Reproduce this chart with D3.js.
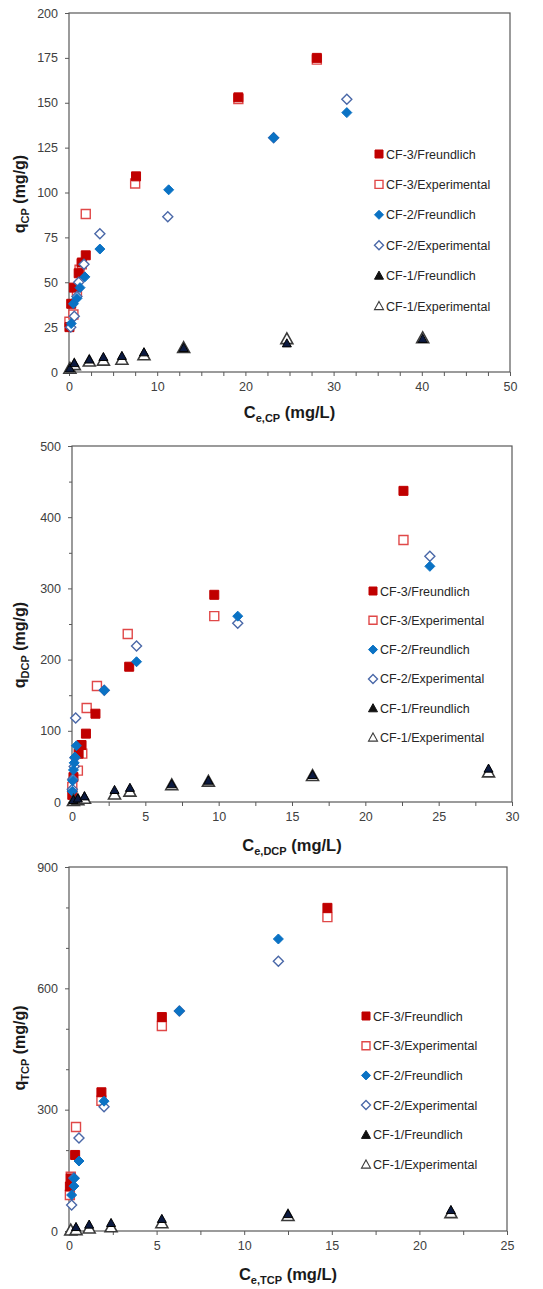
<!DOCTYPE html>
<html><head><meta charset="utf-8">
<script src="https://cdn.jsdelivr.net/npm/d3@7"></script>
<style>
html,body{margin:0;padding:0;background:#fff;}
svg{display:block;font-family:"Liberation Sans",Arial,sans-serif;}
</style></head>
<body>
<svg id="chart" width="543" height="1289"></svg>
<script>
// ---------- DATA ----------
const seriesNames = ["CF-3/Freundlich","CF-3/Experimental","CF-2/Freundlich","CF-2/Experimental","CF-1/Freundlich","CF-1/Experimental"];

// Panel 1: CP
const cpXTicks = [0,10,20,30,40,50];
const cpYTicks = [0,25,50,75,100,125,150,175,200];
const cp_cf3F = [[0.05,25],[0.25,38],[0.55,47],[1.1,55],[1.45,61],[1.9,65],[7.6,109],[19.2,153],[28.1,175]];
const cp_cf3E = [[0.05,28],[0.5,32],[0.9,45],[1.2,57],[1.45,60],[1.9,88],[7.5,105],[19.2,152],[28.1,174]];
const cp_cf2F = [[0.25,27],[0.5,38],[0.9,41],[1.25,47],[1.8,53],[3.5,68.5],[11.3,101.5],[23.2,130.5],[31.5,144.5]];
const cp_cf2E = [[0.2,25],[0.6,31],[0.9,42],[1.1,50],[1.7,60],[3.5,77],[11.2,86.5],[23.2,130.5],[31.5,152]];
const cp_cf1F = [[0.1,2],[0.6,5],[2.3,7],[3.9,8.4],[6.0,9],[8.5,11],[13.0,13.4],[24.7,16],[40.1,18.5]];
const cp_cf1E = [[0.1,2],[0.6,4],[2.3,6],[3.9,6.5],[6.0,7],[8.5,9.5],[13.0,13.5],[24.7,18.5],[40.1,19]];

// Panel 2: DCP
const dcpXTicks = [0,5,10,15,20,25,30];
const dcpYTicks = [0,100,200,300,400,500];
const dcp_cf3F = [[0.02,10],[0.1,35],[0.45,68],[0.65,80],[0.95,96],[1.6,124],[3.9,190],[9.7,291],[22.6,437]];
const dcp_cf3E = [[0.02,21],[0.4,44],[0.7,68],[1.0,132],[1.7,163],[3.8,236],[9.7,261],[22.6,368]];
const dcp_cf2F = [[0.02,15],[0.05,30],[0.1,45],[0.15,55],[0.2,63],[0.3,79],[2.2,157],[4.4,197],[11.3,261],[24.4,331]];
const dcp_cf2E = [[0.02,18],[0.05,32],[0.15,50],[0.2,62],[0.25,118],[2.2,157],[4.4,219],[11.3,251],[24.4,345]];
const dcp_cf1F = [[0.1,3],[0.4,5],[0.85,8],[2.9,17],[3.95,20],[6.8,25],[9.3,30],[16.4,38],[28.4,47]];
const dcp_cf1E = [[0.1,2],[0.4,3],[0.85,5],[2.9,11],[3.95,15],[6.8,24],[9.3,29],[16.4,37],[28.4,42]];

// Panel 3: TCP
const tcpXTicks = [0,5,10,15,20,25];
const tcpYTicks = [0,300,600,900];
const tcp_cf3F = [[0.05,110],[0.1,130],[0.35,188],[1.85,343],[5.3,529],[14.75,799]];
const tcp_cf3E = [[0.05,89],[0.1,134],[0.4,257],[1.85,322],[5.3,507],[14.75,776]];
const tcp_cf2F = [[0.15,89],[0.28,111],[0.3,130],[0.57,173],[2.0,321],[6.3,544],[11.95,722]];
const tcp_cf2E = [[0.15,64],[0.28,131],[0.57,230],[2.0,307],[6.3,544],[11.95,667]];
const tcp_cf1F = [[0.4,10],[1.15,16],[2.4,20],[5.3,30],[12.5,42],[21.8,52]];
const tcp_cf1E = [[0.1,2],[0.4,3],[1.15,7],[2.4,10],[5.3,20],[12.5,38],[21.8,45]];

// ---------- STYLES ----------
const styles = {
  "CF-3/Freundlich":   {shape:"square",  fill:"#C00000", stroke:"#C00000", sw:1,   size:9},
  "CF-3/Experimental": {shape:"square",  fill:"#fff",    stroke:"#E04848", sw:1.4, size:9},
  "CF-2/Freundlich":   {shape:"diamond", fill:"#0A72C4", stroke:"#0A72C4", sw:1,   size:9},
  "CF-2/Experimental": {shape:"diamond", fill:"#fff",    stroke:"#4A68A8", sw:1.4, size:9},
  "CF-1/Freundlich":   {shape:"triangle",fill:"#0C1A40", stroke:"#000",    sw:1,   size:9},
  "CF-1/Experimental": {shape:"triangle",fill:"#fff",    stroke:"#3a3a3a", sw:1.6, size:12}
};

function markerPath(shape, s){
  const h = s/2;
  if(shape==="square") return `M${-h},${-h}H${h}V${h}H${-h}Z`;
  if(shape==="diamond") return `M0,${-h-0.5}L${h+0.5},0L0,${h+0.5}L${-h-0.5},0Z`;
  return `M0,${-h}L${h},${h*0.8}L${-h},${h*0.8}Z`;
}

const panels = [
  {xDom:[0,50], xR:[69,510], yDom:[0,200], yR:[372,13], xTicks:cpXTicks, xMinor:2.5, yTicks:cpYTicks, yMinor:null,
   sub:"CP", titleYc:194, xTitleY:418,
   data:{"CF-3/Freundlich":cp_cf3F,"CF-3/Experimental":cp_cf3E,"CF-2/Freundlich":cp_cf2F,"CF-2/Experimental":cp_cf2E,"CF-1/Freundlich":cp_cf1F,"CF-1/Experimental":cp_cf1E},
   legX:379, legY:154, legStep:30.4},
  {xDom:[0,30], xR:[72,512], yDom:[0,500], yR:[802,446], xTicks:dcpXTicks, xMinor:2.5, yTicks:dcpYTicks, yMinor:50,
   sub:"DCP", titleYc:645, xTitleY:851,
   data:{"CF-3/Freundlich":dcp_cf3F,"CF-3/Experimental":dcp_cf3E,"CF-2/Freundlich":dcp_cf2F,"CF-2/Experimental":dcp_cf2E,"CF-1/Freundlich":dcp_cf1F,"CF-1/Experimental":dcp_cf1E},
   legX:373, legY:591, legStep:29.3},
  {xDom:[0,25], xR:[69,507], yDom:[0,900], yR:[1231,867], xTicks:tcpXTicks, xMinor:2.5, yTicks:tcpYTicks, yMinor:100,
   sub:"TCP", titleYc:1048, xTitleY:1280,
   data:{"CF-3/Freundlich":tcp_cf3F,"CF-3/Experimental":tcp_cf3E,"CF-2/Freundlich":tcp_cf2F,"CF-2/Experimental":tcp_cf2E,"CF-1/Freundlich":tcp_cf1F,"CF-1/Experimental":tcp_cf1E},
   legX:366, legY:1016, legStep:29.7}
];

const drawOrder = ["CF-3/Experimental","CF-3/Freundlich","CF-2/Experimental","CF-2/Freundlich","CF-1/Experimental","CF-1/Freundlich"];

const svg = d3.select("#chart");
const axisColor = "#595959";
const labelColor = "#404040";

panels.forEach(p => {
  const x = d3.scaleLinear().domain(p.xDom).range(p.xR);
  const y = d3.scaleLinear().domain(p.yDom).range(p.yR);
  const g = svg.append("g");

  // minor ticks
  if(p.xMinor){
    const minors = d3.range(p.xDom[0], p.xDom[1]+1e-9, p.xMinor).filter(v => !p.xTicks.includes(v));
    g.append("g").attr("transform",`translate(0,${p.yR[0]})`)
      .call(d3.axisBottom(x).tickValues(minors).tickSize(4).tickFormat(""))
      .call(a=>{a.select(".domain").remove(); a.selectAll("line").attr("stroke",axisColor);});
  }
  if(p.yMinor){
    const minors = d3.range(p.yDom[0], p.yDom[1]+1e-9, p.yMinor).filter(v => !p.yTicks.includes(v));
    g.append("g").attr("transform",`translate(${p.xR[0]},0)`)
      .call(d3.axisLeft(y).tickValues(minors).tickSize(3).tickFormat(""))
      .call(a=>{a.select(".domain").remove(); a.selectAll("line").attr("stroke",axisColor);});
  }
  // major axes
  g.append("g").attr("transform",`translate(0,${p.yR[0]})`)
    .call(d3.axisBottom(x).tickValues(p.xTicks).tickSize(4).tickPadding(6).tickFormat(d3.format("d")))
    .call(a=>{a.select(".domain").remove(); a.selectAll("line").attr("stroke",axisColor);
      a.selectAll("text").attr("fill",labelColor).style("font-size","12.5px").style("font-family","'Liberation Sans',Arial,sans-serif");});
  g.append("g").attr("transform",`translate(${p.xR[0]},0)`)
    .call(d3.axisLeft(y).tickValues(p.yTicks).tickSize(4).tickPadding(7).tickFormat(d3.format("d")))
    .call(a=>{a.select(".domain").remove(); a.selectAll("line").attr("stroke",axisColor);
      a.selectAll("text").attr("fill",labelColor).style("font-size","12.5px").style("font-family","'Liberation Sans',Arial,sans-serif");});

  // frame
  g.append("rect").attr("x",p.xR[0]).attr("y",p.yR[1])
    .attr("width",p.xR[1]-p.xR[0]).attr("height",p.yR[0]-p.yR[1])
    .attr("fill","none").attr("stroke",axisColor).attr("stroke-width",1.2);

  // points
  drawOrder.forEach(name => {
    const st = styles[name];
    g.append("g").selectAll("path").data(p.data[name]).join("path")
      .attr("transform", d => `translate(${x(d[0])},${y(d[1])})`)
      .attr("d", markerPath(st.shape, st.size))
      .attr("fill", st.fill).attr("stroke", st.stroke).attr("stroke-width", st.sw);
  });

  // legend
  seriesNames.forEach((name,i) => {
    const st = styles[name];
    const ly = p.legY + i*p.legStep;
    const ls = st.shape==="triangle" ? 9 : (st.shape==="diamond" ? 8 : 8);
    g.append("path").attr("transform",`translate(${p.legX},${ly})`)
      .attr("d", markerPath(st.shape, ls))
      .attr("fill", name==="CF-1/Freundlich" ? "#111" : st.fill)
      .attr("stroke", name==="CF-1/Freundlich" ? "#111" : st.stroke)
      .attr("stroke-width", st.shape==="triangle" && st.fill==="#fff" ? 1.1 : st.sw);
    g.append("text").attr("x", p.legX+7).attr("y", ly+4.5)
      .attr("fill","#262626").style("font-size","12.5px").text(name);
  });

  // y title
  const yt = g.append("text").attr("transform",`translate(25,${p.titleYc}) rotate(-90)`)
    .attr("text-anchor","middle").attr("font-weight","bold").style("font-size","16px").attr("fill","#1a1a1a");
  yt.append("tspan").text("q");
  yt.append("tspan").attr("dy",4).style("font-size","11px").text(p.sub);
  yt.append("tspan").attr("dy",-4).text(" (mg/g)");

  // x title
  const xt = g.append("text").attr("x",(p.xR[0]+p.xR[1])/2).attr("y",p.xTitleY)
    .attr("text-anchor","middle").attr("font-weight","bold").style("font-size","16.5px").attr("fill","#1a1a1a");
  xt.append("tspan").text("C");
  xt.append("tspan").attr("dy",4).style("font-size","11px").text("e," + p.sub);
  xt.append("tspan").attr("dy",-4).text(" (mg/L)");
});
</script>
</body></html>
